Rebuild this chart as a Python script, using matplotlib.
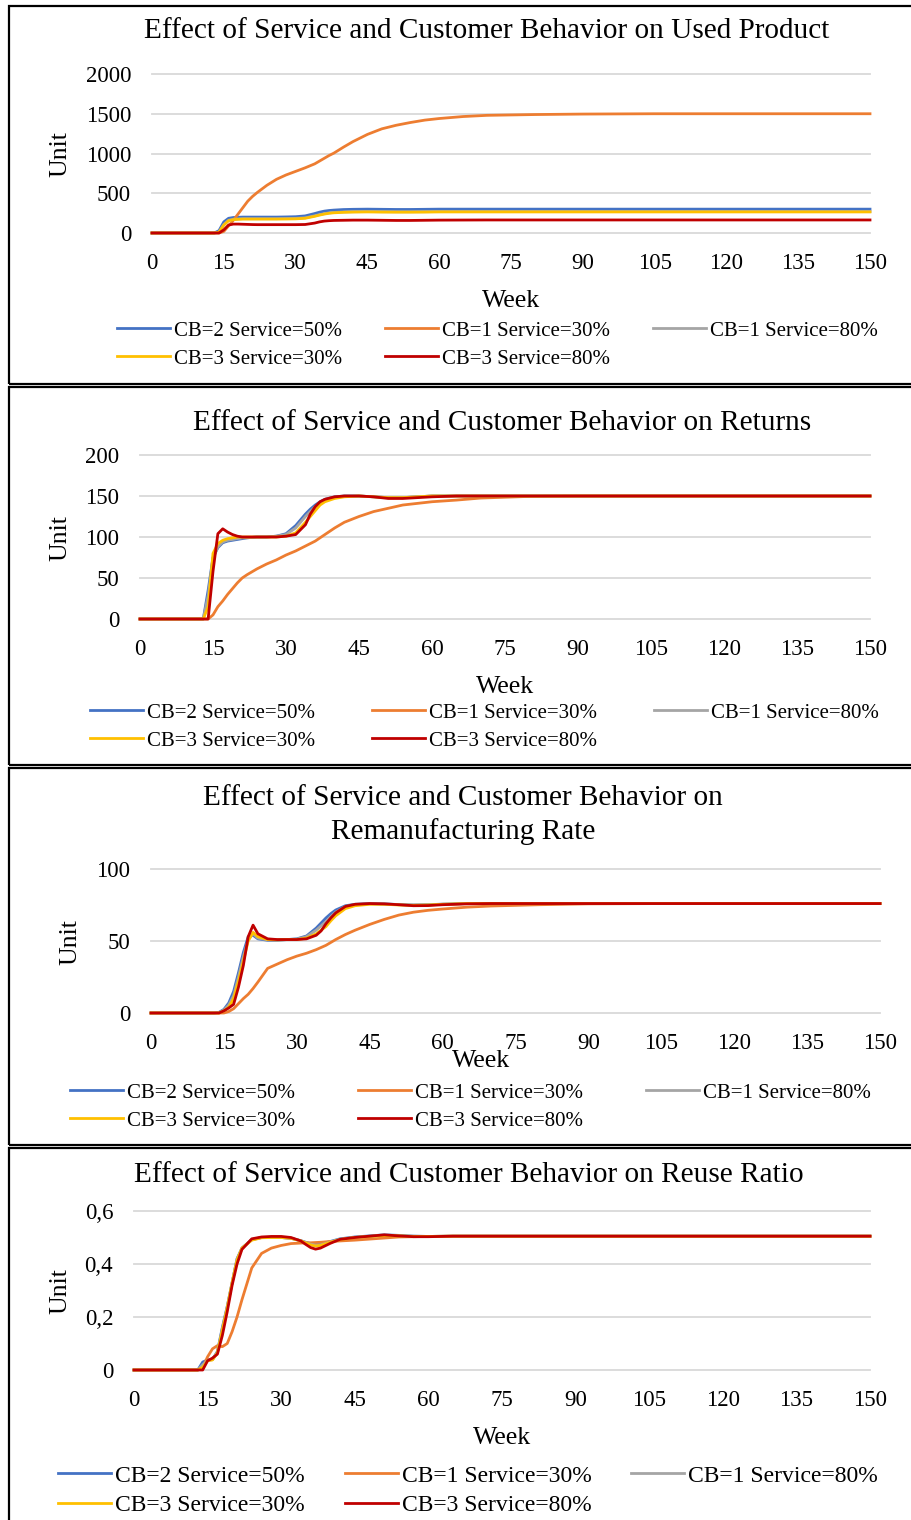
import matplotlib
matplotlib.use('Agg')
import matplotlib.pyplot as plt
from matplotlib.patches import Rectangle

plt.rcParams['font.family'] = ['Liberation Serif', 'DejaVu Serif']

W, H = 911, 1520

# weeks (denser where the curves move)
weeks = [0, 13, 14, 15, 16, 17, 18, 19, 20, 21, 22, 24, 26, 28, 30, 32, 34, 35,
         36, 37, 38, 40, 42, 45, 48, 51, 54, 57, 60, 65, 70, 80, 90, 105, 120, 150]

series_names = ['CB=2 Service=50%', 'CB=1 Service=30%', 'CB=1 Service=80%',
                'CB=3 Service=30%', 'CB=3 Service=80%']
series_colors = ['#4472C4', '#ED7D31', '#A5A5A5', '#FFC000', '#C00000']

x_ticks = [0, 15, 30, 45, 60, 75, 90, 105, 120, 135, 150]

# --- Used Product ---
used_blue = [0, 0, 30, 140, 185, 195, 198, 200, 200, 200, 200, 200, 200, 202, 205, 215, 245, 262,
             275, 283, 288, 295, 298, 300, 298, 296, 296, 298, 300, 300, 300, 300, 300, 300, 300, 300]
used_orange = [0, 0, 0, 20, 90, 160, 240, 320, 400, 460, 510, 600, 675, 730, 775, 820, 870, 905,
               940, 975, 1005, 1080, 1150, 1240, 1310, 1355, 1390, 1420, 1440, 1465, 1480, 1490, 1496, 1500, 1500, 1500]
used_gray = [0, 0, 12, 105, 160, 172, 177, 180, 180, 180, 180, 180, 180, 182, 184, 191, 216, 231,
             243, 253, 259, 265, 268, 270, 268, 267, 267, 268, 270, 270, 270, 270, 270, 270, 270, 270]
used_yellow = [0, 0, 10, 100, 155, 168, 172, 175, 175, 175, 175, 175, 175, 176, 178, 185, 210, 225,
               238, 248, 254, 260, 263, 265, 263, 262, 262, 263, 265, 265, 265, 265, 265, 265, 265, 265]
used_red = [0, 0, 0, 40, 100, 112, 112, 110, 108, 106, 105, 105, 105, 105, 105, 107, 125, 140,
            150, 155, 158, 160, 162, 162, 160, 158, 158, 160, 162, 163, 164, 164, 164, 164, 164, 164]
used_yticks = [0, 500, 1000, 1500, 2000]
used_ylabels = ['0', '500', '1000', '1500', '2000']

# --- Returns ---
ret_blue = [0, 0, 35, 75, 87, 93, 95, 96, 97, 98, 99, 100, 100, 101, 104, 114, 128, 134,
            139, 143, 146, 149, 150, 150, 149, 148, 148, 149, 150, 150, 150, 150, 150, 150, 150, 150]
ret_orange = [0, 0, 0, 5, 15, 22, 30, 37, 44, 50, 54, 61, 67, 72, 78, 83, 89, 92,
              95, 99, 103, 111, 118, 125, 131, 135, 139, 141, 143, 145, 147.5, 149.5, 150, 150, 150, 150]
ret_gray = [0, 0, 28, 74, 88, 94, 96, 97, 98, 99, 99, 100, 100, 101, 103, 111, 125, 131,
            137, 141, 145, 148, 150, 150, 149, 148, 148, 149, 150, 150, 150, 150, 150, 150, 150, 150]
ret_yellow = [0, 0, 15, 80, 92, 96, 98, 99, 100, 100, 100, 100, 100, 100, 101, 105, 118, 125,
              132, 139, 143, 147, 149, 150, 149, 148, 148, 149, 150, 150, 150, 150, 150, 150, 150, 150]
ret_red = [0, 0, 0, 58, 104, 110, 106, 103, 101, 100, 100, 100, 100, 100, 101, 103, 115, 128,
           137, 143, 146, 149, 150, 150, 149, 147, 147, 148, 149, 150, 150, 150, 150, 150, 150, 150]
ret_yticks = [0, 50, 100, 150, 200]
ret_ylabels = ['0', '50', '100', '150', '200']

# --- Remanufacturing Rate ---
rem_blue = [0, 0, 0.5, 2.5, 7, 15, 28, 42, 53, 54, 51.5, 50.5, 50.5, 51, 51.5, 53.5, 59, 62.5,
            66, 69, 71.5, 74.5, 75.5, 76, 75.8, 75.3, 75, 75.2, 75.6, 76, 76, 76, 76, 76, 76, 76]
rem_orange = [0, 0, 0, 0, 1, 3, 6.5, 10, 13, 17, 21.5, 31, 34, 37, 39.5, 41.5, 44, 45.5,
              47, 49, 51, 54.5, 57.5, 61.5, 65, 68, 70, 71.3, 72.2, 73.5, 74.3, 75.2, 75.8, 76, 76, 76]
rem_gray = [0, 0, 0.3, 2, 5.5, 12, 25, 39, 51, 55, 52, 50.8, 50.7, 51, 51.3, 53, 57.5, 60.5,
            63.5, 67, 70, 74, 75.2, 75.8, 75.6, 75.2, 74.9, 75.1, 75.5, 76, 76, 76, 76, 76, 76, 76]
rem_yellow = [0, 0, 0, 1.5, 4, 10, 22, 36, 50, 56, 53, 51, 50.8, 51, 51, 52, 55, 57.5,
              60, 64, 67.5, 72.5, 74.5, 75.5, 75.5, 75, 74.8, 75, 75.5, 76, 76, 76, 76, 76, 76, 76]
rem_red = [0, 0, 0, 1.5, 3.5, 6, 18, 33, 53, 61, 55, 51.5, 51, 51, 51, 51.5, 54, 57,
           62, 66, 69.5, 74, 75.5, 76, 75.8, 75.2, 74.5, 74.6, 75.2, 75.8, 76, 76, 76, 76, 76, 76]
rem_yticks = [0, 50, 100]
rem_ylabels = ['0', '50', '100']

# --- Reuse Ratio ---
reu_blue = [0, 0, 0.03, 0.038, 0.04, 0.07, 0.16, 0.24, 0.33, 0.42, 0.46, 0.492, 0.5, 0.5, 0.5, 0.497, 0.488, 0.482,
            0.477, 0.474, 0.475, 0.485, 0.495, 0.502, 0.506, 0.51, 0.508, 0.505, 0.504, 0.505, 0.505, 0.505, 0.505, 0.505, 0.505, 0.505]
reu_orange = [0, 0, 0.01, 0.05, 0.08, 0.092, 0.088, 0.1, 0.145, 0.2, 0.265, 0.385, 0.44, 0.46, 0.47, 0.477, 0.479, 0.48,
              0.48, 0.481, 0.482, 0.485, 0.487, 0.49, 0.494, 0.498, 0.502, 0.503, 0.504, 0.505, 0.505, 0.505, 0.505, 0.505, 0.505, 0.505]
reu_gray = [0, 0, 0.02, 0.036, 0.039, 0.068, 0.155, 0.238, 0.33, 0.418, 0.46, 0.491, 0.5, 0.5, 0.5, 0.497, 0.488, 0.481,
            0.475, 0.471, 0.472, 0.483, 0.494, 0.501, 0.505, 0.508, 0.507, 0.505, 0.504, 0.505, 0.505, 0.505, 0.505, 0.505, 0.505, 0.505]
reu_yellow = [0, 0, 0.01, 0.035, 0.038, 0.065, 0.15, 0.235, 0.33, 0.415, 0.46, 0.49, 0.499, 0.5, 0.5, 0.497, 0.487, 0.48,
              0.472, 0.468, 0.47, 0.482, 0.492, 0.5, 0.504, 0.507, 0.506, 0.504, 0.504, 0.505, 0.505, 0.505, 0.505, 0.505, 0.505, 0.505]
reu_red = [0, 0, 0, 0.035, 0.045, 0.06, 0.13, 0.22, 0.32, 0.4, 0.455, 0.495, 0.502, 0.504, 0.504, 0.5, 0.487, 0.474,
           0.462, 0.456, 0.46, 0.478, 0.493, 0.5, 0.505, 0.51, 0.506, 0.503, 0.503, 0.505, 0.505, 0.505, 0.505, 0.505, 0.505, 0.505]
reu_yticks = [0, 0.2, 0.4, 0.6]
reu_ylabels = ['0', '0,2', '0,4', '0,6']


def fx(px):
    return px / W


def fy(py):
    return 1 - py / H


fig = plt.figure(figsize=(W / 100, H / 100), dpi=100)


def panel(box, plot_px, data, yticks, ylabels, title, title_xy, week_xy, unit_xy,
          leg_xy, leg_fs, colsp_px, row_px, tick_fs=16.5):
    top, bottom = box
    fig.patches.append(Rectangle((fx(9), fy(bottom)), (920 - 9) / W, (bottom - top) / H,
                                 transform=fig.transFigure, fill=False, ec='black', lw=1.6))
    x0, x1, y0, yt = plot_px
    ax = fig.add_axes([fx(x0), fy(y0), (x1 - x0) / W, (y0 - yt) / H])
    for vals, name, col in zip(data, series_names, series_colors):
        ax.plot(weeks, vals, color=col, lw=2.0, label=name, clip_on=False,
                solid_joinstyle='round')
    ax.set_xlim(0, 150)
    ax.set_ylim(yticks[0], yticks[-1])
    ax.set_xticks(x_ticks)
    ax.set_xticklabels([str(t) for t in x_ticks])
    ax.set_yticks(yticks)
    ax.set_yticklabels(ylabels)
    ax.tick_params(length=0, labelsize=tick_fs, pad=15)
    ax.tick_params(axis='x', pad=14.5)
    ax.yaxis.grid(True, color='#D9D9D9', lw=1.3)
    for gl in ax.get_ygridlines():
        gl.set_clip_on(False)
    ax.set_axisbelow(True)
    for s in ax.spines.values():
        s.set_visible(False)
    ax.set_facecolor('none')

    fig.text(fx(title_xy[0]), fy(title_xy[1]), title, ha='center', va='center',
             fontsize=21.1, linespacing=1.32)
    fig.text(fx(week_xy[0]), fy(week_xy[1]), 'Week', ha='center', va='center', fontsize=18.5)
    fig.text(fx(unit_xy[0]), fy(unit_xy[1]), 'Unit', ha='center', va='center',
             fontsize=18.5, rotation=90)

    h, l = ax.get_legend_handles_labels()
    order = [0, 3, 1, 4, 2]
    fs_px = leg_fs * 100 / 72
    text_h = 1.33 * leg_fs * 100 / 72 * 0.67 + 0.0
    ls = (row_px - (19.4 if leg_fs < 16 else 20.8)) / fs_px
    ax.legend([h[i] for i in order], [l[i] for i in order], loc='upper left',
              bbox_to_anchor=(fx(leg_xy[0]), fy(leg_xy[1])), bbox_transform=fig.transFigure,
              ncol=3, frameon=False, fontsize=leg_fs, handlelength=53 / fs_px,
              handletextpad=4 / fs_px, columnspacing=colsp_px / fs_px,
              borderpad=0, borderaxespad=0, labelspacing=ls)
    return ax


panel((6, 384), (152, 870, 233, 74),
      [used_blue, used_orange, used_gray, used_yellow, used_red],
      used_yticks, used_ylabels,
      'Effect of Service and Customer Behavior on Used Product',
      (487, 31), (511, 301), (60, 154), (117, 321), 15, 43, 28)

panel((387, 765), (140, 870, 619, 455),
      [ret_blue, ret_orange, ret_gray, ret_yellow, ret_red],
      ret_yticks, ret_ylabels,
      'Effect of Service and Customer Behavior on Returns',
      (502, 422.5), (505, 687), (60, 538), (90, 703), 15, 57, 28)

panel((768, 1145), (151, 880, 1013, 869),
      [rem_blue, rem_orange, rem_gray, rem_yellow, rem_red],
      rem_yticks, rem_ylabels,
      'Effect of Service and Customer Behavior on\nRemanufacturing Rate',
      (463, 815), (481, 1061), (70, 942), (70, 1083), 15, 63, 28)

panel((1148, 1530), (134, 870, 1370, 1211),
      [reu_blue, reu_orange, reu_gray, reu_yellow, reu_red],
      reu_yticks, reu_ylabels,
      'Effect of Service and Customer Behavior on Reuse Ratio',
      (469, 1175.5), (502, 1438), (60, 1291), (58, 1465), 17, 40, 29)

fig.savefig('out.png', dpi=100)
